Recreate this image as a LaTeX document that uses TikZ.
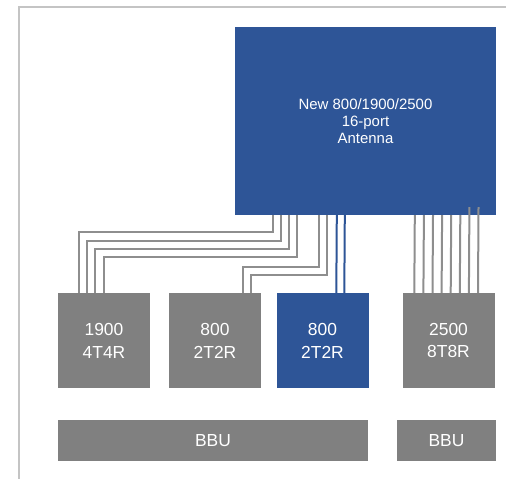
\documentclass[tikz,border=0pt]{standalone}
\usepackage{fontspec}
\setmainfont{Liberation Sans}
\usepackage{tikz}
\usetikzlibrary{calc,positioning}
\definecolor{antblue}{HTML}{2E5597}
\definecolor{boxgray}{HTML}{808080}
\definecolor{cablegray}{HTML}{8E8E8E}
\definecolor{rulegray}{HTML}{C4C4C4}
\tikzset{antbox/.style={fill=antblue,text=white,inner sep=0pt,align=center,font=\fontsize{15}{17}\selectfont},radiobox/.style={fill=boxgray,text=white,inner sep=0pt,minimum width=92bp,minimum height=95bp,align=center,font=\fontsize{17.5}{23}\selectfont}, bbubox/.style={fill=boxgray,text=white,inner sep=0pt,minimum height=41bp,font=\fontsize{17.5}{21}\selectfont},cable/.style={draw=cablegray,line width=2bp},bluecable/.style={draw=antblue,line width=2bp},framerule/.style={draw=rulegray,line width=1.2bp}}

\begin{document}
\begin{tikzpicture}[x=1bp,y=-1bp]
\useasboundingbox (0,0) rectangle (506,479);
\draw[framerule] (19,479) -- (19,7) -- (506,7);
\node[antbox,minimum width=261bp,minimum height=188bp] (ant) at (365.5,121) {New 800/1900/2500\\16-port\\Antenna};
\node[radiobox] (r1) at (104,340.5) {1900\\4T4R};
\node[radiobox] (r2) at (215,340.5) {800\\2T2R};
\node[radiobox,fill=antblue] (r3) at (322.5,340.5) {800\\2T2R};
\node[radiobox] (r4) at (448.5,340.5) {2500\\8T8R};
\node[bbubox,minimum width=310bp] (bbu1) at (213,440.5) {BBU};
\node[bbubox,minimum width=99bp] (bbu2) at (446.5,440.5) {BBU};
% 1900 4T4R
\foreach \k in {0,...,3}
 \draw[cable] ($(r1.north west)+(21+8.3*\k,0)$) |- ($(ant.south west)+(38+8*\k,17+8.3*\k)$) -- ($(ant.south west)+(38+8*\k,0)$);
% 800 2T2R
\foreach \k in {0,1}
 \draw[cable] ($(r2.north west)+(74+8*\k,0)$) |- ($(ant.south west)+(84+8*\k,52+7.5*\k)$) -- ($(ant.south west)+(84+8*\k,0)$);
% 800 2T2R (new)
\foreach \k in {0,1}
 \draw[bluecable] ($(r3.north west)+(60+8*\k,0)$) -- ($(ant.south west)+(102+8*\k,0)$);
% 2500 8T8R
\foreach \k in {0,...,5}
 \draw[cable] ($(r4.north west)+(12+9.1*\k,0)$) -- ($(ant.south west)+(180+9.1*\k,0)$);
\foreach \k in {6,7}
 \draw[cable] ($(r4.north west)+(12+9.1*\k,0)$) -- ($(ant.south west)+(180+9.1*\k,-8)$);
\end{tikzpicture}
\end{document}
